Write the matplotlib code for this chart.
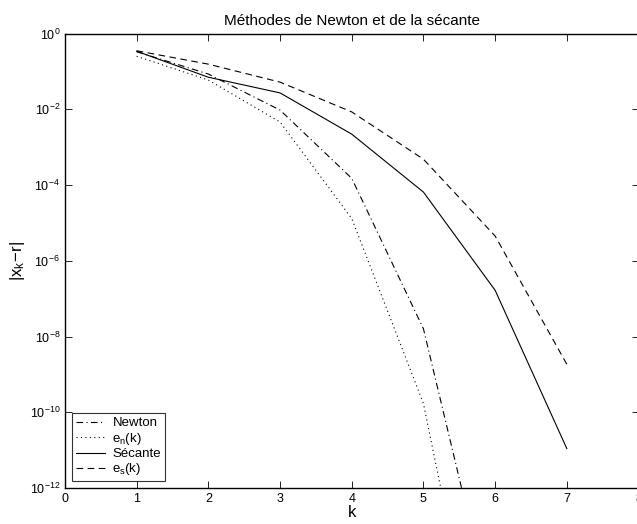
import numpy as np
import matplotlib
matplotlib.use("Agg")
import matplotlib.pyplot as plt
from matplotlib.ticker import FixedLocator

plt.rcParams['font.family'] = ['Liberation Sans', 'DejaVu Sans']
plt.rcParams['mathtext.fontset'] = 'custom'
plt.rcParams['mathtext.rm'] = 'Liberation Sans'
plt.rcParams['mathtext.it'] = 'Liberation Sans'

k = np.array([1, 2, 3, 4, 5, 6, 7])
k_newton = np.array([1, 2, 3, 4, 5, 6])

newton = np.array([0.33, 0.085, 9.5e-3, 1.5e-4, 1.6e-8, 2e-16])
e_n = np.array([0.25, 0.059, 4.6e-3, 1.3e-5, 1.7e-10, 1e-19])
secante = np.array([0.34, 0.07, 0.027, 2.2e-3, 6.5e-5, 1.66e-7, 1.1e-11])
e_s = np.array([0.35, 0.155, 0.052, 8.5e-3, 4.8e-4, 4.5e-6, 1.85e-9])

fig = plt.figure(figsize=(6.37, 5.24), dpi=100)
ax = fig.add_axes([65/637, 36/524, 573.5/637, 454.5/524])

lw = 0.8
ax.semilogy(k_newton, newton, color='black', lw=lw, linestyle=(0, (6, 3, 1, 3)), label='Newton')
ax.semilogy(k_newton, e_n, color='black', lw=lw, linestyle=(0, (1, 3)), label='$\\mathregular{e_n(k)}$')
ax.semilogy(k, secante, color='black', lw=lw, linestyle='-', label='Sécante')
ax.semilogy(k, e_s, color='black', lw=lw, linestyle=(0, (6, 4)), label='$\\mathregular{e_s(k)}$')

ax.set_xlim(0, 8)
ax.set_ylim(1e-12, 1)
ax.set_xticks(range(0, 9))
ax.yaxis.set_major_locator(FixedLocator([10.0**p for p in range(-12, 1, 2)]))
ax.yaxis.set_minor_locator(FixedLocator([]))
ax.tick_params(direction='in', top=True, right=True, labelsize=9, length=5, width=0.6)
for s in ax.spines.values():
    s.set_linewidth(1.0)

ax.set_title('Méthodes de Newton et de la sécante', fontsize=11, pad=6)
ax.set_xlabel('k', fontsize=12, labelpad=0)
ax.set_ylabel('$\\mathregular{|x_k\\!-\\!r|}$', fontsize=12, labelpad=2)

leg = ax.legend(loc='lower left', fontsize=9.5, frameon=True, fancybox=False,
                edgecolor='black', handlelength=2.2, handletextpad=0.6,
                borderpad=0.3, labelspacing=0.1, borderaxespad=0.5)
leg.get_frame().set_linewidth(0.8)

fig.savefig('out.png', dpi=100)
